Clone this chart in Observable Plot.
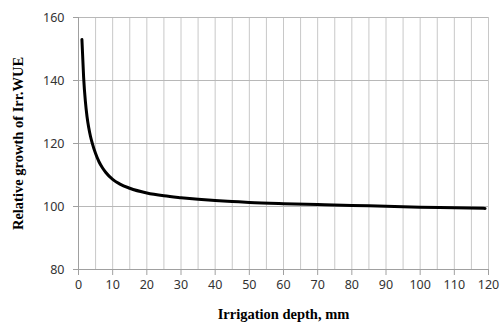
<!DOCTYPE html>
<html><head><meta charset="utf-8">
<script src="https://cdn.jsdelivr.net/npm/d3@7"></script>
<script src="https://cdn.jsdelivr.net/npm/@observablehq/plot@0.6"></script>
<style>body{margin:0;background:#fff;} svg{display:block;}</style>
</head><body><div id="chart"></div>
<script>
const depth = [1, 1.5, 2, 2.5, 3, 3.5, 4, 5, 6, 7, 8, 10, 12, 15, 20, 25, 30, 35, 40, 45, 50, 60, 70, 80, 90, 100, 110, 119];
const growth = [153, 141, 133.5, 128.5, 125, 122.3, 120.2, 116.8, 114.2, 112.3, 110.8, 108.6, 107.2, 105.8, 104.3, 103.4, 102.8, 102.3, 101.9, 101.6, 101.3, 100.9, 100.6, 100.3, 100.1, 99.8, 99.6, 99.4];
const xTicks = [0, 10, 20, 30, 40, 50, 60, 70, 80, 90, 100, 110, 120];
const xGrid = d3.range(0, 121, 5);
const yTicks = [80, 100, 120, 140, 160];
const xTitle = "Irrigation depth, mm";
const yTitle = "Relative growth of Irr.WUE";

const data = depth.map((d, i) => ({x: d, y: growth[i]}));

const chart = Plot.plot({
  width: 501, height: 324,
  marginLeft: 78, marginRight: 13, marginTop: 17, marginBottom: 55,
  style: {fontFamily: "'Noto Sans', sans-serif", fontSize: "12.5px", color: "#333", background: "#fff"},
  x: {domain: [0, 120]},
  y: {domain: [80, 160]},
  marks: [
    Plot.ruleX(xGrid, {stroke: "#c8c8c8", strokeWidth: 1}),
    Plot.ruleY(yTicks, {stroke: "#b8b8b8", strokeWidth: 1}),
    Plot.ruleX([0], {stroke: "#a0a0a0"}),
    Plot.ruleY([80], {stroke: "#a0a0a0"}),
    Plot.axisX({ticks: xTicks, tickSize: 6, tickPadding: 5, stroke: "#a0a0a0", label: null, fill: "#333", fontSize: 12.5}),
    Plot.axisY({ticks: yTicks, tickSize: 5, tickPadding: 9, stroke: "#a0a0a0", label: null, fill: "#333", fontSize: 12.5}),
    Plot.line(data, {x: "x", y: "y", stroke: "#000", strokeWidth: 3, curve: "monotone-x"}),
    Plot.text([xTitle], {frameAnchor: "bottom", dy: 49, text: d => d, textAnchor: "middle", fontFamily: "'Liberation Serif', 'Times New Roman', serif", fontWeight: "bold", fontSize: 14.5, fill: "#000"}),
    Plot.text([yTitle], {frameAnchor: "left", dx: -60, rotate: -90, text: d => d, textAnchor: "middle", fontFamily: "'Liberation Serif', 'Times New Roman', serif", fontWeight: "bold", fontSize: 14.5, fill: "#000"})
  ]
});
document.getElementById("chart").appendChild(chart);
</script>
</body></html>
